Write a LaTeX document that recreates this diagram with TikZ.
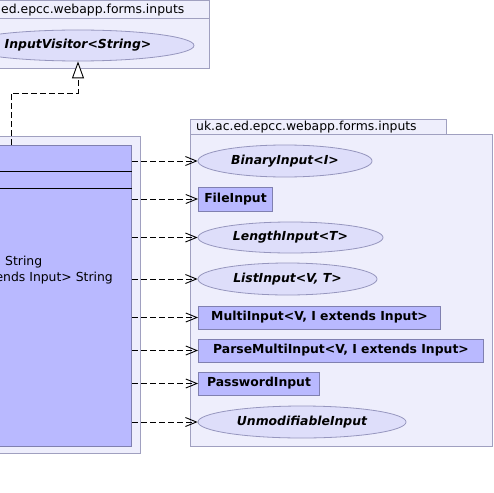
\documentclass[tikz,border=0pt]{standalone}
\usepackage{fontspec}
\setmainfont{DejaVu Sans}
\usetikzlibrary{arrows.meta,shapes.geometric}
\definecolor{pkgfill}{RGB}{238,238,252}
\definecolor{pkgline}{RGB}{160,160,192}
\definecolor{boxfill}{RGB}{185,185,255}
\definecolor{boxline}{RGB}{128,128,176}
\definecolor{ellfill}{RGB}{222,222,250}
\definecolor{ellline}{RGB}{150,150,190}
\tikzset{
  pkg/.style={draw=pkgline,fill=pkgfill,line width=1pt},
  pkglabel/.style={inner sep=0pt,anchor=west,font=\fontsize{12.4}{14}\selectfont},
  iface/.style={ellipse,draw=ellline,fill=ellfill,line width=0.8pt,inner sep=0pt,
    font=\fontsize{12.4}{14}\selectfont\bfseries\itshape},
  cbox/.style={rectangle,draw=boxline,fill=boxfill,line width=1pt,inner sep=0pt,
    anchor=west,font=\fontsize{12.4}{14}\selectfont\bfseries},
  dep/.style={dash pattern=on 6pt off 3pt,line width=0.9pt,-{Straight Barb[length=11pt,width=9pt]}},
  impl/.style={dash pattern=on 6pt off 3pt,line width=0.9pt,-{Triangle[open,fill=white,length=17pt,width=12pt]}}
}
\begin{document}
\begin{tikzpicture}[x=1pt,y=-1pt]
	\useasboundingbox (0,0) rectangle (494,492);
	\clip (0,0) rectangle (494,492);
	\fill[white] (0,0) rectangle (494,492);
	
	\draw[pkg] (-10,1) rectangle (209,69);
	\draw[pkgline,line width=1pt] (-10,19) -- (209,19);
	\node[pkglabel] (toplbl) at (1,10) {ed.epcc.webapp.forms.inputs};
	\node[iface,minimum width=232pt,minimum height=31pt] (visitor) at (78,45.5) {InputVisitor<String>};
	
	\draw[pkg] (-10,136) rectangle (140,453);
	\node[rectangle,draw=boxline,fill=boxfill,line width=1pt,anchor=north east,
	  minimum width=200pt,minimum height=301pt] (cls) at (132,145) {};
	\draw[black,line width=0.9pt] (cls.west |- 0,171) -- (cls.east |- 0,171);
	\draw[black,line width=0.9pt] (cls.west |- 0,188) -- (cls.east |- 0,188);
	\node[inner sep=0pt,anchor=west,font=\fontsize{12.4}{14}\selectfont] (m1) at (5,262) {String};
	\node[inner sep=0pt,anchor=east,font=\fontsize{12.4}{14}\selectfont] (m2) at (113,278) {ends Input> String};
	
	\draw[pkg] (190,119) rectangle (446,134);
	\draw[pkg] (190,134) rectangle (492,446);
	\node[pkglabel] (rightlbl) at (196,127) {uk.ac.ed.epcc.webapp.forms.inputs};
	
	\node[iface,minimum width=174pt,minimum height=32pt] (binary) at (285,161) {BinaryInput<I>};
	\node[cbox,minimum width=74pt,minimum height=24pt] (file) at (198,199) {FileInput};
	\node[iface,minimum width=185pt,minimum height=31pt] (length) at (290.5,237.5) {LengthInput<T>};
	\node[iface,minimum width=179pt,minimum height=32pt] (list) at (287.5,279) {ListInput<V, T>};
	\node[cbox,minimum width=242pt,minimum height=23pt] (multi) at (198,317.5) {MultiInput<V, I extends Input>};
	\node[cbox,minimum width=285pt,minimum height=23pt] (parse) at (198,350.5) {ParseMultiInput<V, I extends Input>};
	\node[cbox,minimum width=121pt,minimum height=23pt] (password) at (198,383.5) {PasswordInput};
	\node[iface,minimum width=208pt,minimum height=32pt] (unmod) at (302,422) {UnmodifiableInput};
	
	\coordinate (bend) at (11,93);
	\draw[impl] (cls.north -| bend) -- (bend) -| (visitor.south);
	
	\draw[dep] (binary.west -| cls.east) -- (binary.west);
	\draw[dep] (file.west -| cls.east) -- (file.west);
	\draw[dep] (length.west -| cls.east) -- (length.west);
	\draw[dep] (list.west -| cls.east) -- (list.west);
	\draw[dep] (multi.west -| cls.east) -- (multi.west);
	\draw[dep] (parse.west -| cls.east) -- (parse.west);
	\draw[dep] (password.west -| cls.east) -- (password.west);
	\draw[dep] (unmod.west -| cls.east) -- (unmod.west);
\end{tikzpicture}
\end{document}
